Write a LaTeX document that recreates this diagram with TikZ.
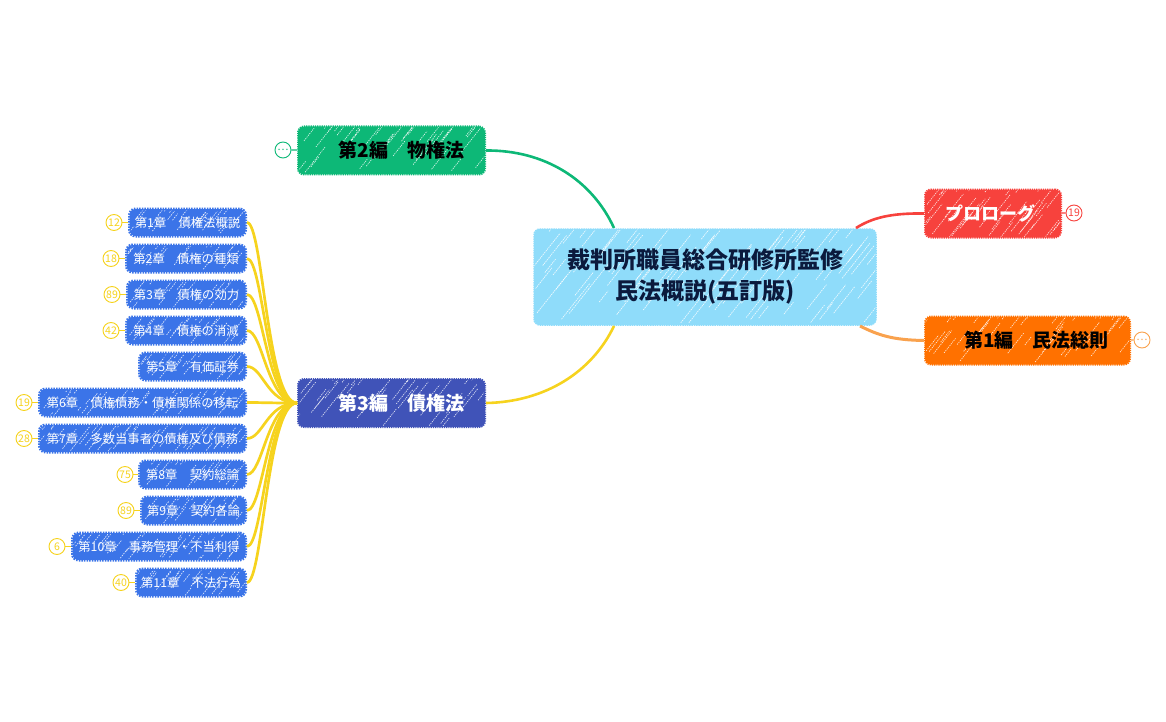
\documentclass[tikz,border=0pt]{standalone}
\usepackage{fontspec}
\setmainfont{Noto Sans CJK JP}
\usetikzlibrary{calc}
\definecolor{rootblue}{HTML}{8FDCFA}
\definecolor{rootink}{HTML}{0B1A3D}
\definecolor{leafblue}{HTML}{3B74E8}
\definecolor{topicgreen}{HTML}{0DB877}
\definecolor{topicindigo}{HTML}{4053B8}
\definecolor{topicred}{HTML}{F7423D}
\definecolor{topicorange}{HTML}{FF7100}
\definecolor{lineorange}{HTML}{F9A24E}
\definecolor{lineyellow}{HTML}{F6D31E}
\newcommand\HatchStroke[4] {
  \pgfmathsetmacro\hatchx{(#1-1+rnd)/#2}
  \pgfmathsetmacro\hatchy{rnd*#4}
  \pgfmathsetmacro\hatchl{#3*(.4+rnd)}
  \draw[white, opacity=.85, line width=.65pt]
     ($(path picture bounding box.south west)!\hatchx!(path picture bounding box.south east)$)
     ++(-6, -\hatchy) -- ++(.62*\hatchl, -.78*\hatchl) ;
}
\tikzset{
  scribble/.style n args={3}{path picture={
     \foreach \k in {1,...,#1} {\HatchStroke{\k}{#1}{#2}{#3}}
  }},
  boxnode/.style={rounded corners=6pt, inner sep=0pt, align=center},
  rootnode/.style={boxnode, fill=rootblue, draw=rootblue, line width=1.5pt, dash pattern=on 1.5pt off .8pt,
     text=rootink, minimum width=342pt, minimum height=96pt, scribble={90}{36}{96},
     font=\fontsize{23}{31}\selectfont\bfseries},
  topicnode/.style={boxnode, minimum height=48pt, line width=2pt, dash pattern=on 1.2pt off 1pt,
     scribble={46}{24}{50}, font=\fontsize{19}{20}\selectfont\bfseries},
  leafnode/.style={boxnode, anchor=east, minimum height=27pt, fill=leafblue, draw=leafblue,
     line width=3pt, dash pattern=on 1.5pt off 1.1pt, text=white, scribble={#1}{12}{30},
     font=\fontsize{12.3}{14}\selectfont},
  marknode/.style={circle, draw=#1, fill=white, text=#1, line width=.9pt, inner sep=0pt,
     minimum size=16pt, font=\fontsize{10.5}{12}\selectfont},
  branch/.style={line width=#1},
}
\begin{document}
\begin{tikzpicture}[x=1pt, y=-1pt]
   \useasboundingbox (0, 0) rectangle (1166, 722);
   \pgfmathsetseed{4217}
   % centre and the four main topics
   \node[rootnode] (root) at (705, 277) {裁判所職員総合研修所監修\\民法概説(五訂版)};
   \node[topicnode, fill=topicgreen, draw=topicgreen, text=black, minimum width=187pt]
     (topicB) at (391.5, 150.5) {\hspace*{20pt}第2編　物権法};
   \node[topicnode, fill=topicindigo, draw=topicindigo, text=white, minimum width=187pt]
     (topicC) at (391.5, 403) {\hspace*{20pt}第3編　債権法};
   \node[topicnode, fill=topicred, draw=topicred, text=white, minimum width=136pt,
     font=\fontsize{18}{20}\selectfont\bfseries]
     (topicP) at (993, 213.5) {\hspace*{-6pt}プロローグ};
   \node[topicnode, fill=topicorange, draw=topicorange, text=black, minimum width=205pt]
     (topicA) at (1027.5, 340.5) {\hspace*{18pt}第1編　民法総則};
   \coordinate (rootTL) at (614, 228);
   \coordinate (rootBL) at (614, 326);
   \coordinate (rootTR) at (856, 228);
   \coordinate (rootBR) at (860, 326);
   \draw[branch=2.6pt, topicgreen] (topicB.east) .. controls (545, 150) and (592, 180) .. (rootTL);
   \draw[branch=2.6pt, lineyellow] (topicC.east) .. controls (545, 402) and (592, 372) .. (rootBL);
   \draw[branch=2.6pt, topicred] (topicP.west) .. controls (890, 213) and (872, 218) .. (rootTR);
   \draw[branch=3pt, lineorange] (topicA.west) .. controls (892, 340) and (878, 335) .. (rootBR);
   % chapters
   \foreach \i/\ypos/\wid/\hatch/\txt in {
      1/222.5/119/34/第1章　債権法概説,
      2/258.5/122/34/第2章　債権の種類,
      3/294.5/121/34/第3章　債権の効力,
      4/330.5/122/34/第4章　債権の消滅,
      5/366.5/109/30/第5章　有価証券,
      6/402.5/209/58/第6章　債権債務・債権関係の移転,
      7/438.5/209/58/第7章　多数当事者の債権及び債務,
      8/474.5/109/30/第8章　契約総論,
      9/510.5/107/30/第9章　契約各論,
      10/546.5/176/48/第10章　事務管理・不当利得,
      11/582.5/112/30/第11章　不法行為} {
     \node[leafnode=\hatch, minimum width=\wid pt-3pt] (leaf\i) at (247, \ypos) {\txt};
     \draw[branch=2.7pt, lineyellow] (leaf\i.east) .. controls +(16, 0) and +(-30, 0) .. (topicC.west);
   }
   % page counts
   \foreach \i/\xpos/\ypos/\num in {1/114/222.5/12, 2/111/258.5/18, 3/112/294.5/89, 4/111/330.5/42,
      6/24/402.5/19, 7/24/438.5/28, 8/125/474.5/75, 9/126/510.5/89, 10/57/546.5/6, 11/121/582.5/40} {
     \node[marknode=lineyellow] (mark\i) at (\xpos, \ypos) {\num};
     \draw[branch=1.6pt, lineyellow] (mark\i) -- (leaf\i);
   }
   \node[marknode=topicgreen] (markB) at (283, 150) {…};
   \node[marknode=topicred] (markP) at (1074, 213) {19};
   \node[marknode=lineorange] (markA) at (1142, 340) {…};
   \draw[branch=1.2pt, topicgreen] (markB) -- (topicB);
   \draw[branch=1.2pt, topicred] (markP) -- (topicP);
   \draw[branch=1.2pt, lineorange] (markA) -- (topicA);
\end{tikzpicture}
\end{document}
